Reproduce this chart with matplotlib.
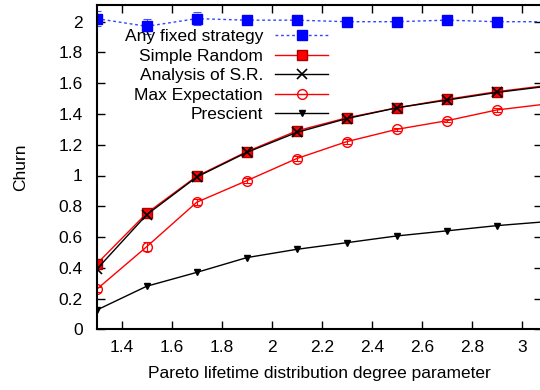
# Churn vs Pareto degree parameter
import matplotlib
matplotlib.use("Agg")
import matplotlib.pyplot as plt

plt.rcParams['font.family'] = ['Liberation Sans', 'DejaVu Sans']

x = [1.3, 1.5, 1.7, 1.9, 2.1, 2.3, 2.5, 2.7, 2.9, 3.1]

fixed = [2.02, 1.97, 2.02, 2.01, 2.01, 2.00, 2.00, 2.01, 2.00, 2.00]
fixed_err = [0.05, 0.05, 0.04, 0.02, 0.02, 0.02, 0.02, 0.02, 0.02, 0.02]

simple_random = [0.425, 0.755, 0.995, 1.155, 1.29, 1.375, 1.44, 1.495, 1.545, 1.585]
simple_random_err = [0.02, 0.03, 0.015, 0.015, 0.01, 0.01, 0.01, 0.01, 0.01, 0.01]

analysis_sr = [0.39, 0.745, 0.99, 1.15, 1.28, 1.37, 1.44, 1.49, 1.54, 1.58]

max_exp = [0.26, 0.537, 0.826, 0.966, 1.11, 1.22, 1.30, 1.356, 1.426, 1.465]
max_exp_err = [0.015, 0.03, 0.02, 0.015, 0.015, 0.015, 0.01, 0.01, 0.01, 0.01]

prescient = [0.125, 0.28, 0.37, 0.466, 0.52, 0.563, 0.607, 0.64, 0.674, 0.70]

W, H = 540, 390
fig = plt.figure(figsize=(W / 100, H / 100), dpi=100)
left, right, top, bottom = 96.7, 542, 5, 329.3
ax = fig.add_axes([left / W, 1 - bottom / H, (right - left) / W, (bottom - top) / H])

# error bars drawn separately so the legend keys stay plain
eb = ax.errorbar(x, fixed, yerr=fixed_err, fmt='none', ecolor='#4455ff',
                 elinewidth=0.8, capsize=3, capthick=0.8)
eb[2][0].set_linestyle((0, (1.5, 1.5)))
ax.errorbar(x, simple_random, yerr=simple_random_err, fmt='none', ecolor='red',
            elinewidth=0.8, capsize=3, capthick=0.8)
ax.errorbar(x, max_exp, yerr=max_exp_err, fmt='none', ecolor='red',
            elinewidth=0.8, capsize=3, capthick=0.8)

ax.plot(x, fixed, color='#3344ff', ls=(0, (2, 2)), lw=1, marker='s', ms=6.5,
        mfc='#0000ff', mec='#0000ff', label='Any fixed strategy')
ax.plot(x, simple_random, color='red', lw=1, marker='s', ms=6.5,
        mfc='red', mec='#aa0000', label='Simple Random')
ax.plot(x, analysis_sr, color='black', lw=1, marker='x', ms=7, mew=1.2,
        label='Analysis of S.R.')
ax.plot(x, max_exp, color='red', lw=1, marker='o', ms=7, mfc='none', mec='red',
        label='Max Expectation')
ax.plot(x, prescient, color='black', lw=1, marker='v', ms=5,
        label='Prescient')

ax.set_xlim(1.3, 1.3 + (right - left) / 250)
ax.set_ylim(0, (bottom - top) / 153.8)
ax.set_xticks([1.4, 1.6, 1.8, 2.0, 2.2, 2.4, 2.6, 2.8, 3.0])
ax.set_xticklabels(['1.4', '1.6', '1.8', '2', '2.2', '2.4', '2.6', '2.8', '3'])
ax.set_yticks([0, 0.2, 0.4, 0.6, 0.8, 1.0, 1.2, 1.4, 1.6, 1.8, 2.0])
ax.set_yticklabels(['0', '0.2', '0.4', '0.6', '0.8', '1', '1.2', '1.4', '1.6', '1.8', '2'])
ax.tick_params(direction='in', length=6, width=1, top=True, right=True,
               labelsize=12.5)
ax.tick_params(axis='x', pad=7.5)
ax.tick_params(axis='y', pad=10)
for s in ax.spines.values():
    s.set_linewidth(1.5)

ax.set_xlabel('Pareto lifetime distribution degree parameter', fontsize=12.5, labelpad=8)
ax.set_ylabel('Churn', fontsize=12.5, labelpad=22)

leg = ax.legend(loc='upper right', bbox_to_anchor=(328 / W, 1 - 29 / H),
                bbox_transform=fig.transFigure, frameon=False, markerfirst=False,
                fontsize=12.5, handlelength=3.05, handletextpad=0.7,
                labelspacing=0.25, borderpad=0, borderaxespad=0)
for t in leg.get_texts():
    t.set_ha('right')

fig.savefig('out.png', dpi=100)
